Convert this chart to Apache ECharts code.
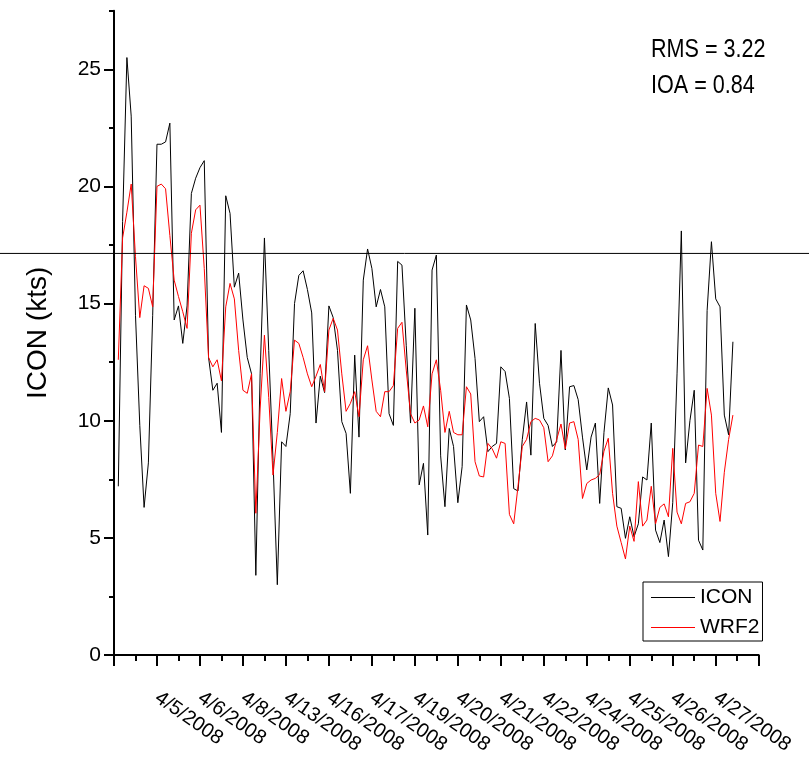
<!DOCTYPE html>
<html>
<head>
<meta charset="utf-8">
<script src="https://cdn.jsdelivr.net/npm/echarts@6/dist/echarts.min.js"></script>
<style>
  html, body { margin: 0; padding: 0; background: #fff; }
  #chart { width: 809px; height: 758px; }
</style>
</head>
<body>
<div id="chart"></div>
<script>
// observation index of each labelled tick and its date
const labelIndex = [10, 20, 30, 40, 50, 60, 70, 80, 90, 100, 110, 120, 130, 140]
const labelText = ['4/5/2008', '4/6/2008', '4/8/2008', '4/13/2008', '4/16/2008', '4/17/2008', '4/19/2008',
    '4/20/2008', '4/21/2008', '4/22/2008', '4/24/2008', '4/25/2008', '4/26/2008', '4/27/2008']

const yMajor = [0, 5, 10, 15, 20, 25]
const yMinor = [2.5, 7.5, 12.5, 17.5, 22.5, 27.5]

// wind speed (kts), one value per observation starting at index 1
const icon = [
    7.2, 18.5, 25.5, 23.0, 14.5, 9.8, 6.3, 8.2, 14.5, 21.8,
    21.8, 21.9, 22.7, 14.3, 14.9, 13.3, 14.9, 19.7, 20.35, 20.8,
    21.1, 12.7, 11.3, 11.6, 9.5, 19.6, 18.85, 15.7, 16.3, 14.3,
    12.7, 12.0, 3.4, 12.0, 17.8, 13.0, 8.3, 3.0, 9.1, 8.9,
    10.3, 15.0, 16.2, 16.4, 15.6, 14.6, 9.9, 11.9, 11.2, 14.9,
    14.4, 13.0, 9.96, 9.46, 6.9, 12.8, 9.3, 16.0, 17.33, 16.5,
    14.86, 15.6, 14.86, 10.3, 9.8, 16.8, 16.64, 13.2, 9.9, 14.8,
    7.26, 8.18, 5.12, 16.43, 17.07, 8.5, 6.33, 9.67, 8.9, 6.5,
    8.04, 14.94, 14.3, 12.66, 9.96, 10.17, 8.68, 8.9, 9.03, 12.3,
    12.1, 10.95, 7.1, 7.0, 9.2, 10.8, 8.53, 14.15, 11.6, 10.1,
    9.8, 8.9, 9.1, 13.0, 8.75, 11.45, 11.5, 10.9, 9.3, 7.9,
    9.3, 9.9, 6.47, 9.5, 11.4, 10.67, 6.33, 6.26, 4.98, 5.9,
    5.05, 5.6, 7.6, 7.47, 9.9, 5.33, 4.8, 5.76, 4.2, 6.5,
    12.0, 18.1, 8.2, 10.0, 11.3, 4.9, 4.48, 14.7, 17.64, 15.2,
    14.86, 10.24, 9.4, 13.37
]
const wrf2 = [
    12.6, 17.8, 18.9, 20.1, 17.0, 14.4, 15.76, 15.65, 14.86, 20.0,
    20.1, 19.9, 17.9, 16.0, 15.3, 14.65, 13.94, 18.0, 19.0, 19.2,
    16.5, 12.7, 12.3, 12.6, 11.7, 14.86, 15.86, 15.2, 13.0, 11.3,
    11.17, 12.0, 6.05, 10.5, 13.65, 11.0, 7.68, 9.5, 11.8, 10.4,
    11.24, 13.44, 13.3, 12.7, 12.0, 11.45, 11.9, 12.4, 11.24, 13.87,
    14.37, 13.87, 12.0, 10.4, 10.74, 11.24, 10.17, 12.6, 13.2, 11.74,
    10.4, 10.17, 11.24, 11.24, 11.5, 13.94, 14.2, 12.16, 10.3, 9.9,
    10.03, 10.63, 9.74, 12.0, 12.6, 11.3, 9.5, 10.4, 9.5, 9.4,
    9.4, 11.45, 11.14, 8.25, 7.64, 7.6, 9.03, 8.8, 8.4, 9.1,
    9.03, 6.0, 5.6, 7.2, 8.9, 9.2, 9.96, 10.1, 10.03, 9.7,
    8.25, 8.5, 9.2, 9.86, 8.8, 9.9, 9.96, 9.2, 6.68, 7.32,
    7.47, 7.54, 7.7, 8.7, 9.25, 6.9, 5.5, 4.8, 4.1, 5.5,
    4.85, 7.4, 5.5, 5.76, 7.2, 5.6, 6.3, 6.45, 5.9, 8.82,
    6.1, 5.6, 6.47, 6.54, 6.9, 8.96, 8.9, 11.38, 10.24, 6.9,
    5.7, 7.8, 9.2, 10.24
]

// horizontal reference level across the whole figure
const refLevel = 17.14

const font = "'Liberation Sans', Arial, sans-serif"

const labelMap = labelIndex.reduce((obj, idx, i) => {
    obj[idx] = labelText[i]
    return obj
}, {})
const toPairs = arr => arr.map((v, i) => [i + 1, v])

const chart = echarts.init(document.getElementById('chart'), null, { renderer: 'canvas' })

const gridBox = { top: 10.7, bottom: 103 }

const option = {
    animation: false,
    backgroundColor: '#fff',
    grid: [
        { left: 114, right: 50.3, top: gridBox.top, bottom: gridBox.bottom, containLabel: false, outerBoundsMode: 'none' },
        { left: 0, right: 0, top: gridBox.top, bottom: gridBox.bottom, containLabel: false, outerBoundsMode: 'none' }
    ],
    xAxis: [
        {
            gridIndex: 0,
            type: 'value',
            min: 0,
            max: 150,
            interval: 10,
            axisLine: { lineStyle: { color: '#000', width: 2 } },
            axisTick: { length: 11, lineStyle: { color: '#000', width: 2 } },
            minorTick: { show: true, splitNumber: 2, length: 6, lineStyle: { color: '#000', width: 2 } },
            splitLine: { show: false },
            minorSplitLine: { show: false },
            axisLabel: {
                customValues: labelIndex,
                formatter: v => labelMap[v] || '',
                rotate: -35,
                margin: 41,
                color: '#000',
                fontFamily: font,
                fontSize: 20
            }
        },
        { gridIndex: 1, type: 'value', min: 0, max: 1, show: false }
    ],
    yAxis: [
        {
            gridIndex: 0,
            type: 'value',
            position: 'left',
            min: 0,
            max: 27.5,
            interval: 5,
            axisLine: { show: true, lineStyle: { color: '#000', width: 2 } },
            axisTick: { show: true, customValues: yMajor, length: 10, lineStyle: { color: '#000', width: 2 } },
            splitLine: { show: false },
            axisLabel: {
                customValues: yMajor,
                margin: 13,
                color: '#000',
                fontFamily: font,
                fontSize: 21
            },
            name: 'ICON (kts)',
            nameLocation: 'middle',
            nameGap: 62,
            nameTextStyle: { color: '#000', fontFamily: font, fontSize: 28 }
        },
        {
            gridIndex: 0,
            type: 'value',
            position: 'left',
            min: 0,
            max: 27.5,
            interval: 5,
            axisLine: { show: false },
            axisTick: { show: true, customValues: yMinor, length: 5, lineStyle: { color: '#000', width: 2 } },
            axisLabel: { show: false },
            splitLine: { show: false }
        },
        { gridIndex: 1, type: 'value', min: 0, max: 27.5, show: false }
    ],
    legend: {
        data: ['ICON', 'WRF2'],
        orient: 'vertical',
        left: 643,
        top: 582,
        icon: 'rect',
        itemWidth: 44,
        itemHeight: 1,
        itemGap: 9,
        padding: [5, 3, 3, 8],
        borderColor: '#000',
        borderWidth: 1,
        textStyle: { color: '#000', fontFamily: font, fontSize: 21 }
    },
    graphic: [
        {
            type: 'text',
            x: 651,
            y: 50,
            scaleX: 0.83,
            style: { text: 'RMS = 3.22', font: '26px ' + font, fill: '#000', verticalAlign: 'middle' }
        },
        {
            type: 'text',
            x: 651,
            y: 86,
            scaleX: 0.83,
            style: { text: 'IOA = 0.84', font: '26px ' + font, fill: '#000', verticalAlign: 'middle' }
        }
    ],
    series: [
        {
            name: 'ICON',
            type: 'line',
            xAxisIndex: 0,
            yAxisIndex: 0,
            data: toPairs(icon),
            symbol: 'none',
            color: '#000',
            lineStyle: { color: '#000', width: 1 }
        },
        {
            name: 'WRF2',
            type: 'line',
            xAxisIndex: 0,
            yAxisIndex: 0,
            data: toPairs(wrf2),
            symbol: 'none',
            color: '#ff0000',
            lineStyle: { color: '#ff0000', width: 1 }
        },
        {
            name: 'ref',
            type: 'line',
            xAxisIndex: 1,
            yAxisIndex: 2,
            data: [[0, refLevel], [1, refLevel]],
            symbol: 'none',
            silent: true,
            lineStyle: { color: '#000', width: 1 }
        }
    ]
}

chart.setOption(option)
</script>
</body>
</html>
